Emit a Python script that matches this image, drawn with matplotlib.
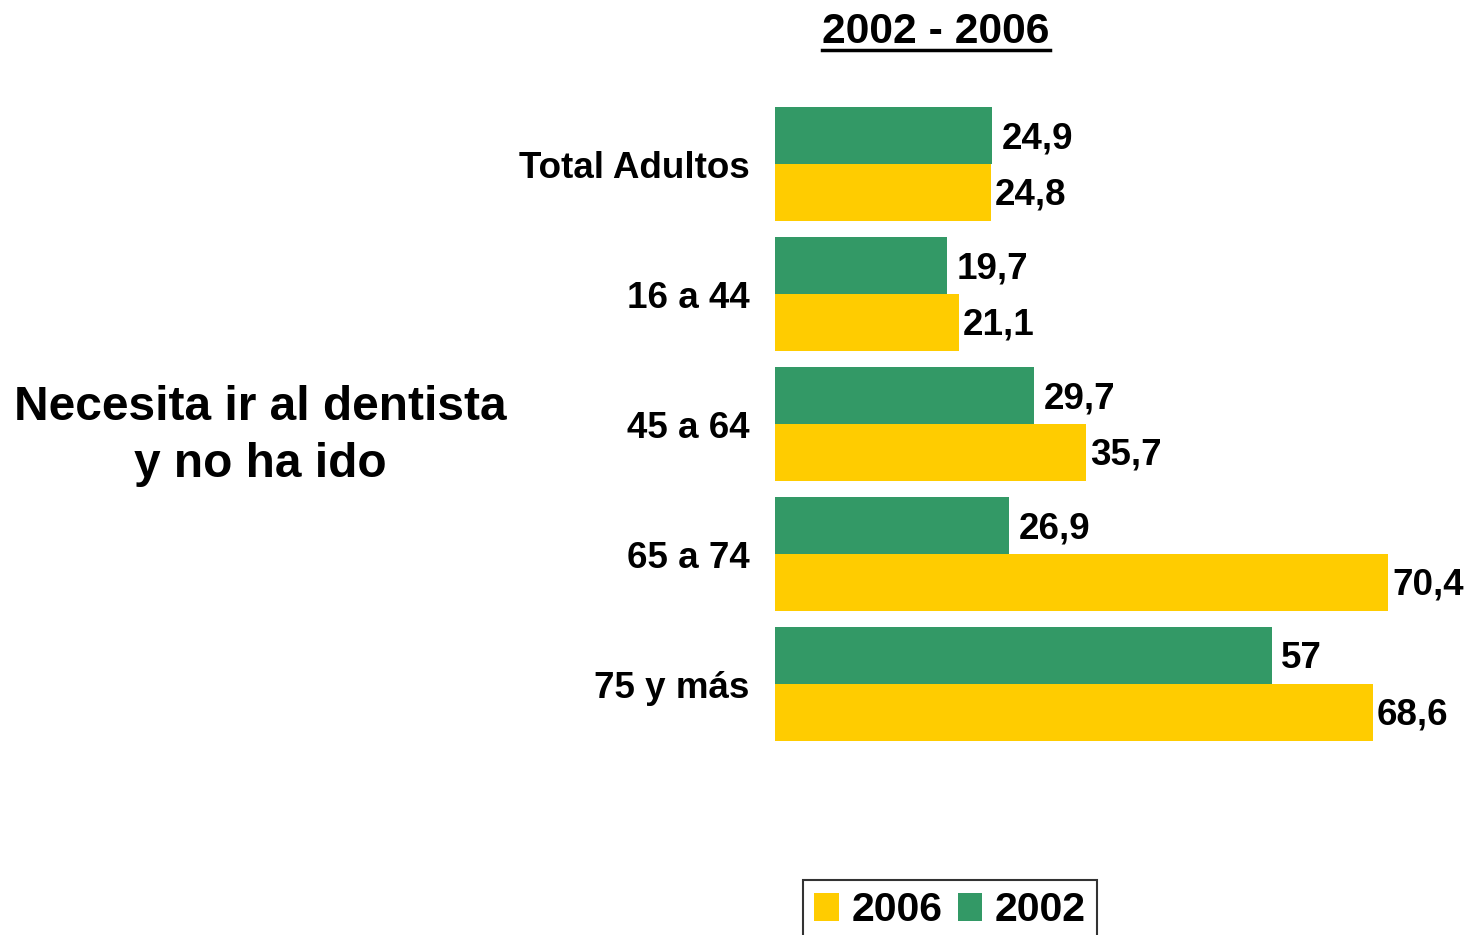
import matplotlib
matplotlib.use("Agg")
import matplotlib.pyplot as plt
from matplotlib.lines import Line2D
from matplotlib.patches import Patch
import numpy as np

categories = ["Total Adultos", "16 a 44", "45 a 64", "65 a 74", "75 y más"]
values_2002 = [24.9, 19.7, 29.7, 26.9, 57]
values_2006 = [24.8, 21.1, 35.7, 70.4, 68.6]
label_2002 = ["24,9", "19,7", "29,7", "26,9", "57"]
label_2006 = ["24,8", "21,1", "35,7", "70,4", "68,6"]

GREEN = "#339966"
YELLOW = "#FFCC00"
W, H = 1473, 935

plt.rcParams["font.family"] = ["Liberation Sans", "DejaVu Sans"]
plt.rcParams["font.weight"] = "bold"

fig = plt.figure(figsize=(W / 100, H / 100), dpi=100)
# axes placed in pixel coords: x 775..1472, y 99..749 (from top)
ax = fig.add_axes([775 / W, 1 - 749 / H, 697 / W, 650 / H])

y = np.arange(len(categories))
h = 0.435
ax.barh(y - h / 2, values_2002, height=h, color=GREEN, edgecolor="none")
ax.barh(y + h / 2, values_2006, height=h, color=YELLOW, edgecolor="none")

for yi, v, s in zip(y, values_2002, label_2002):
    ax.annotate(s, (v, yi - h / 2), xytext=(7, -2), textcoords="offset points",
                ha="left", va="center", fontsize=26.5, fontweight="bold")
for yi, v, s in zip(y, values_2006, label_2006):
    ax.annotate(s, (v, yi + h / 2), xytext=(3, -2), textcoords="offset points",
                ha="left", va="center", fontsize=26.5, fontweight="bold")

ax.set_xlim(0, 80)
ax.set_ylim(4.5, -0.5)
ax.set_yticks(y)
ax.set_yticklabels(categories, fontsize=26.5, fontweight="bold")
ax.tick_params(axis="y", length=0, pad=18.5)
ax.set_xticks([])
for sp in ax.spines.values():
    sp.set_visible(False)

# left side caption
fig.text(260 / W, 1 - 436 / H, "Necesita ir al dentista\ny no ha ido",
         ha="center", va="center", fontsize=34.5, fontweight="bold",
         linespacing=1.36)

# underlined title
title = fig.text(936 / W, 1 - 32 / H, "2002 - 2006", ha="center", va="center",
                 fontsize=30.7, fontweight="bold")
fig.canvas.draw()
bb = title.get_window_extent().transformed(fig.transFigure.inverted())
fig.add_artist(Line2D([bb.x0, bb.x1], [1 - 50 / H, 1 - 50 / H],
                      transform=fig.transFigure, color="black", linewidth=2.5))

handles = [Patch(facecolor=YELLOW, edgecolor="none", label="2006"),
           Patch(facecolor=GREEN, edgecolor="none", label="2002")]
leg = fig.legend(handles=handles, loc="upper left",
                 bbox_to_anchor=(803 / W, 1 - 880 / H), ncol=2,
                 fontsize=29.5, frameon=True, fancybox=False,
                 handlelength=0.6, handleheight=0.65, handletextpad=0.3,
                 columnspacing=0.38, borderpad=0.28, borderaxespad=0)
leg.get_frame().set_edgecolor("black")
leg.get_frame().set_linewidth(1.5)

fig.savefig("out.png", dpi=100)
